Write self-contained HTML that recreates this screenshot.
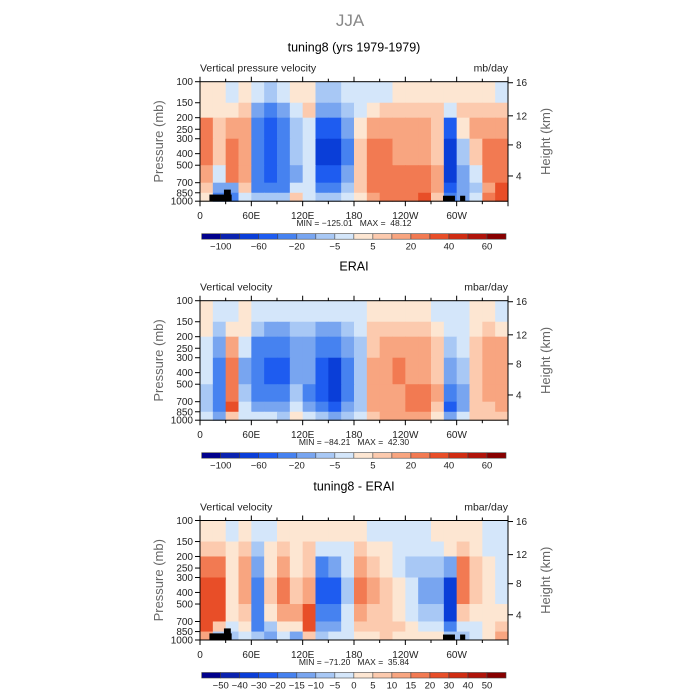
<!DOCTYPE html>
<html><head><meta charset="utf-8"><style>
html,body{margin:0;padding:0;background:#fff;}
svg{display:block;font-family:"Liberation Sans",sans-serif;}
text{white-space:pre;}
</style></head><body>
<svg id="fig" width="700" height="700" viewBox="0 0 700 700" xmlns="http://www.w3.org/2000/svg">
<text x="350" y="26" text-anchor="middle" font-size="17" fill="#888">JJA</text>
</svg>
<script>
// ---- data ----
const lonTicks = [0,60,120,180,240,300];
const lonTickLabels = ["0","60E","120E","180","120W","60W"];
const presTicks = [100,150,200,250,300,400,500,700,850,1000];
const heightTicks = [16,12,8,4];
const heightTickPres = [102,193,338,615];
const bandEdges = [100,150,200,300,500,700,850,1000];
const colors = ["#00008c","#0a22b0","#0a3ed8","#1e5cf0","#4682f0","#78a5f0","#a8c8f5","#d4e6fa","#fde6d2","#fccaae","#f8a580","#f27a52","#e84e28","#d02c12","#b0140a","#880000"];
const levels1 = [-100,-80,-60,-40,-20,-10,-5,0,5,10,20,30,40,50,60];
const levels3 = [-50,-40,-30,-20,-15,-10,-5,0,5,10,15,20,30,40,50];
const cbLabels1 = ["-100","","-60","","-20","","-5","","5","","20","","40","","60"];
const cbLabels3 = ["-50","-40","-30","-20","-15","-10","-5","0","5","10","15","20","30","40","50"];

const p1r0 = [2,2,-2,2,-2,-7,-2,2,2,-7,-7,-2,-2,-2,-2,2,2,2,2,2,2,2,2,-2];
const p1r1 = [2,2,2,7,-15,-30,-15,-2,7,-15,-15,-7,-2,2,7,7,7,7,7,-2,7,7,7,7];
const p1r2 = [25,7,15,15,-30,-50,-30,-7,-2,-50,-50,-15,2,15,15,15,15,15,7,-50,2,15,15,15];
const p1r3 = [25,7,25,15,-30,-50,-30,-7,-2,-70,-70,-30,7,25,25,15,15,15,7,-70,-7,7,25,25];
const p1r4 = [15,-2,25,15,-30,-50,-30,-15,-2,-50,-50,-15,7,25,25,25,25,25,15,-70,-15,-2,25,25];
const p1r5 = [7,-15,-15,7,-30,-30,-30,-2,-2,-30,-30,-7,7,25,25,25,25,25,15,-50,-15,-7,15,35];
const p1r6 = [2,-30,-30,-2,-7,-7,-7,7,-2,-7,-7,-2,2,15,25,25,25,35,7,-30,-15,-2,25,35];

const p2r0 = [2,-2,-2,2,-2,-2,-2,-2,-2,-2,-2,-2,-2,2,2,2,2,2,-2,-2,-2,2,2,-2];
const p2r1 = [2,-7,2,2,-7,-15,-15,-7,-7,-15,-15,-7,-2,7,7,7,7,7,2,-2,-2,2,7,2];
const p2r2 = [-2,-15,15,-2,-30,-30,-30,-15,-15,-30,-30,-15,-7,7,15,15,15,15,7,-7,-2,7,15,15];
const p2r3 = [-2,-30,25,-15,-30,-50,-50,-15,-15,-50,-70,-30,-7,15,15,25,15,15,7,-15,-7,7,15,15];
const p2r4 = [-7,-30,25,-7,-30,-30,-30,-7,-30,-50,-70,-30,-7,15,15,15,25,25,15,-30,-15,7,15,15];
const p2r5 = [-7,-30,35,-2,-15,-15,-15,-2,-15,-30,-50,-15,-7,15,15,15,25,25,7,-50,-15,7,7,15];
const p2r6 = [-2,-15,7,-2,-2,-2,-7,2,-2,-7,-15,-7,-2,7,15,15,15,15,2,-15,-2,7,7,7];

const p3r0 = [2,2,-2,2,-2,-2,2,2,2,2,2,2,2,-2,-2,-2,-2,-2,2,2,2,2,-2,-2];
const p3r1 = [7,7,2,7,-7,2,7,2,7,-2,-2,-2,7,2,2,-2,-2,-2,-2,2,7,2,-2,-2];
const p3r2 = [17,17,2,12,-12,2,12,2,7,-17,-12,-2,12,7,2,-2,-7,-7,-7,-12,17,7,2,-2];
const p3r3 = [25,25,2,12,-17,7,17,7,12,-25,-25,-7,17,12,7,2,-2,-12,-12,-35,17,7,2,-2];
const p3r4 = [25,25,2,7,-17,2,12,12,25,-17,-17,-2,12,7,7,2,-2,-7,-7,-35,7,2,2,2];
const p3r5 = [25,7,-2,2,-17,-7,2,2,25,-12,-12,-2,7,7,7,7,2,-2,-2,-17,-2,-2,2,7];
const p3r6 = [12,-7,-7,-2,-7,-12,-2,-12,7,-7,-2,-2,2,2,7,2,2,2,2,-7,-7,-2,2,12];

// ---- drawing ----
const NS="http://www.w3.org/2000/svg";
const svg=document.getElementById('fig');
function mk(tag,attrs,parent){const e=document.createElementNS(NS,tag);for(const k in attrs)e.setAttribute(k,attrs[k]);(parent||svg).appendChild(e);return e;}
const X0=200,X1=508,PH=119.5;
function xs(lon){return X0+(X1-X0)*lon/360;}
function classOf(v,lv){let i=0;while(i<lv.length&&v>=lv[i])i++;return i;}

function panel(top,title,left,right,rows,levels,cbl,mm,topo,nm){
  const g=mk('g',{});
  
  
  const ys=p=>top+PH*Math.log(p/100)/Math.log(10);
  let t=mk('text',{x:354,y:top-30,'text-anchor':'middle','font-size':12.5,fill:'#000'},g);t.textContent=title;
  
  t=mk('text',{x:X0,y:top-10,'font-size':10.5,fill:'#222'},g);t.textContent=left;
  
  t=mk('text',{x:X1,y:top-10,'font-size':10.5,fill:'#222','text-anchor':'end'},g);t.textContent=right;
  
  const n=rows[0].length,cw=(X1-X0)/n;
  rows.forEach((row,r)=>{
    const y0=ys(bandEdges[r]),y1=ys(bandEdges[r+1]);
    row.forEach((v,c)=>{
      const rc=mk('rect',{x:xs(c*360/n),y:y0,width:cw+0.5,height:y1-y0+0.5,fill:colors[classOf(v,levels)]},g);
      
      
    });
  });
  topo.forEach(b=>{const r=mk('rect',{x:xs(b[0]),y:ys(b[2]),width:xs(b[1])-xs(b[0]),height:ys(1000)-ys(b[2]),fill:'#000'},g);
    });
  const fr=mk('rect',{x:X0,y:top,width:X1-X0,height:PH,fill:'none',stroke:'#000','stroke-width':1},g);
  
  for(let lon=0;lon<=360;lon+=30){const L=lon%60===0?5:3;
    mk('line',{x1:xs(lon),x2:xs(lon),y1:top+PH,y2:top+PH+L,stroke:'#000'},g);
    mk('line',{x1:xs(lon),x2:xs(lon),y1:top,y2:top-L,stroke:'#000'},g);}
  lonTicks.forEach((lon,i)=>{const tt=mk('text',{x:xs(lon),y:top+PH+18,'text-anchor':'middle','font-size':10,fill:'#222'},g);tt.textContent=lonTickLabels[i];
    });
  presTicks.forEach(p=>{mk('line',{x1:X0-5,x2:X0,y1:ys(p),y2:ys(p),stroke:'#000'},g);
    const tt=mk('text',{x:X0-7,y:ys(p)+3.5,'text-anchor':'end','font-size':10,fill:'#222'},g);tt.textContent=p;
    });
  heightTicks.forEach((h,i)=>{const y=ys(heightTickPres[i]);
    mk('line',{x1:X1,x2:X1+5,y1:y,y2:y,stroke:'#000'},g);
    const tt=mk('text',{x:X1+8,y:y+3.5,'font-size':10,fill:'#222'},g);tt.textContent=h;
    });
  t=mk('text',{x:0,y:0,'font-size':13,fill:'#666','text-anchor':'middle',transform:`translate(163,${top+PH/2}) rotate(-90)`},g);t.textContent='Pressure (mb)';
  
  t=mk('text',{x:0,y:0,'font-size':13,fill:'#666','text-anchor':'middle',transform:`translate(550,${top+PH/2}) rotate(-90)`},g);t.textContent='Height (km)';
  
  t=mk('text',{x:354,y:top+PH+25,'text-anchor':'middle','font-size':8.5,fill:'#222'},g);t.textContent=mm;
  
  const cy=top+152,cx0=201.7,bw=(506-201.7)/16;
  colors.forEach((c,i)=>{const r=mk('rect',{x:cx0+i*bw,y:cy,width:bw,height:5.5,fill:c,stroke:'#444','stroke-width':0.6},g);
    });
  cbl.forEach((l,i)=>{if(!l)return;const tt=mk('text',{x:cx0+(i+1)*bw,y:cy+16,'text-anchor':'middle','font-size':9.5,fill:'#222'},g);tt.textContent=l.replace('-','\u2212');
    });
}
const topo=[[11,37,880],[28,36,800],[284,298,900],[304,310,900]];
panel(81.7,"tuning8 (yrs 1979-1979)","Vertical pressure velocity","mb/day",[p1r0,p1r1,p1r2,p1r3,p1r4,p1r5,p1r6],levels1,cbLabels1,"MIN = \u2212125.01   MAX =  48.12",topo,"panel-model");
panel(300.7,"ERAI","Vertical velocity","mbar/day",[p2r0,p2r1,p2r2,p2r3,p2r4,p2r5,p2r6],levels1,cbLabels1,"MIN = \u221284.21   MAX =  42.30",[],"panel-erai");
panel(520.5,"tuning8 - ERAI","Vertical velocity","mbar/day",[p3r0,p3r1,p3r2,p3r3,p3r4,p3r5,p3r6],levels3,cbLabels3,"MIN = \u221271.20   MAX =  35.84",topo,"panel-difference");
</script>
</body></html>
